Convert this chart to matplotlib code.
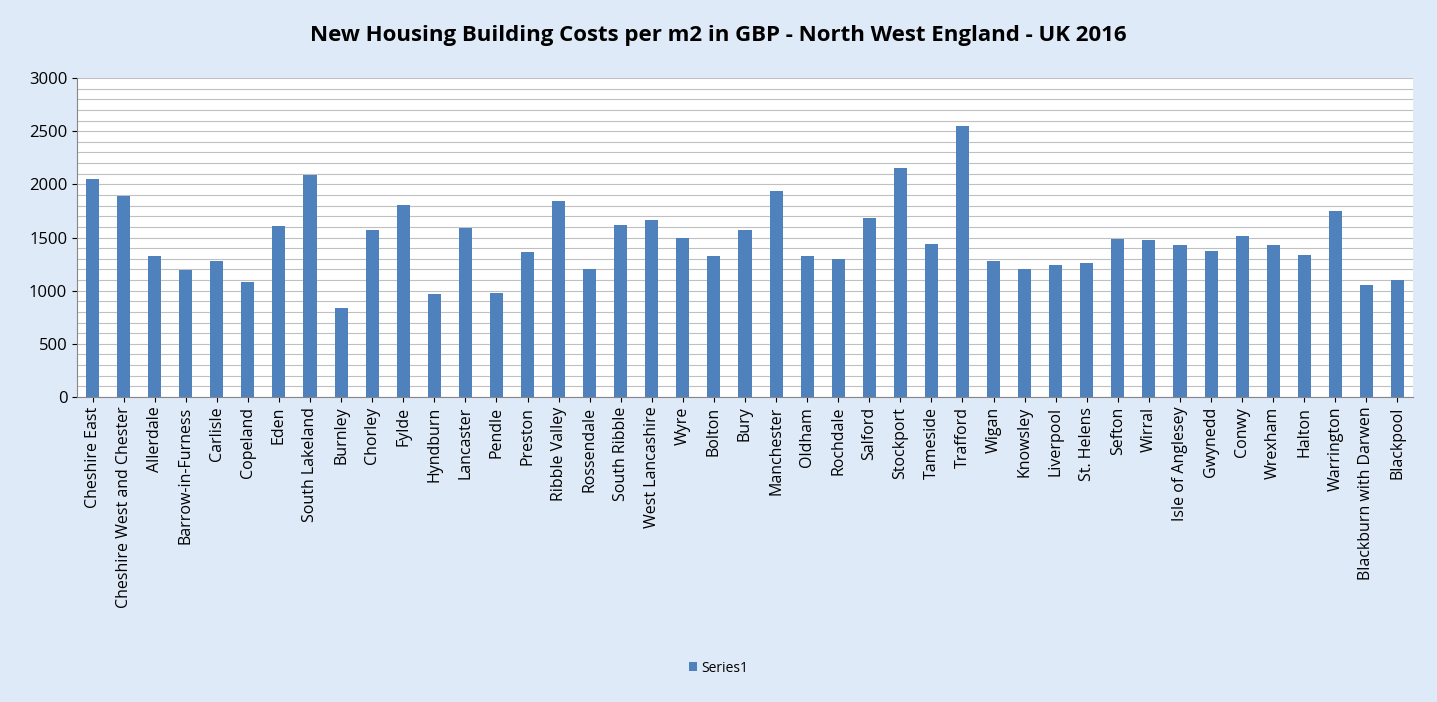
import matplotlib.pyplot as plt
import numpy as np

districts = ['Cheshire East', 'Cheshire West and Chester', 'Allerdale', 'Barrow-in-Furness', 'Carlisle',
             'Copeland', 'Eden', 'South Lakeland', 'Burnley', 'Chorley', 'Fylde', 'Hyndburn', 'Lancaster',
             'Pendle', 'Preston', 'Ribble Valley', 'Rossendale', 'South Ribble', 'West Lancashire', 'Wyre',
             'Bolton', 'Bury', 'Manchester', 'Oldham', 'Rochdale', 'Salford', 'Stockport', 'Tameside',
             'Trafford', 'Wigan', 'Knowsley', 'Liverpool', 'St. Helens', 'Sefton', 'Wirral',
             'Isle of Anglesey', 'Gwynedd', 'Conwy', 'Wrexham', 'Halton', 'Warrington',
             'Blackburn with Darwen', 'Blackpool']
costs = [2050, 1890, 1330, 1190, 1280, 1080, 1610, 2090, 840, 1570, 1810, 970, 1590, 980, 1360,
         1840, 1200, 1620, 1660, 1500, 1330, 1570, 1940, 1330, 1300, 1680, 2150, 1440, 2550, 1280,
         1200, 1240, 1260, 1490, 1480, 1430, 1370, 1510, 1430, 1340, 1750, 1050, 1100]

plt.rcParams['font.family'] = ['Open Sans', 'DejaVu Sans']

fig = plt.figure(figsize=(14.37, 7.02), dpi=100, facecolor='#dfeaf8')
ax = fig.add_axes([77/1437, 1-397/702, (1413-77)/1437, (397-78)/702])
x = np.arange(len(districts))
ax.bar(x, costs, width=0.42, color='#4f81bd', label='Series1', zorder=3)
ax.set_xlim(-0.5, len(districts) - 0.5)
ax.set_ylim(0, 3000)
ax.set_yticks(range(0, 3001, 500))
ax.set_yticks(range(0, 3001, 100), minor=True)
ax.grid(axis='y', which='both', color='#c0c0c0', linewidth=0.8, zorder=0)
ax.tick_params(axis='y', which='minor', length=0)
ax.set_xticks(x)
ax.set_xticklabels(districts, rotation=90, fontsize=11.5)
ax.tick_params(axis='y', labelsize=12)
for s in ['top', 'right']:
    ax.spines[s].set_visible(False)
ax.spines['left'].set_color('#868686')
ax.spines['bottom'].set_color('#868686')

fig.suptitle('New Housing Building Costs per m2 in GBP - North West England - UK 2016',
             fontsize=16, fontweight='bold', y=0.965)
fig.legend(loc='center', bbox_to_anchor=(0.5, 1-668/702), frameon=False, fontsize=10,
           handlelength=0.6, handleheight=0.6, handletextpad=0.3)

plt.savefig('out.png', facecolor=fig.get_facecolor())
